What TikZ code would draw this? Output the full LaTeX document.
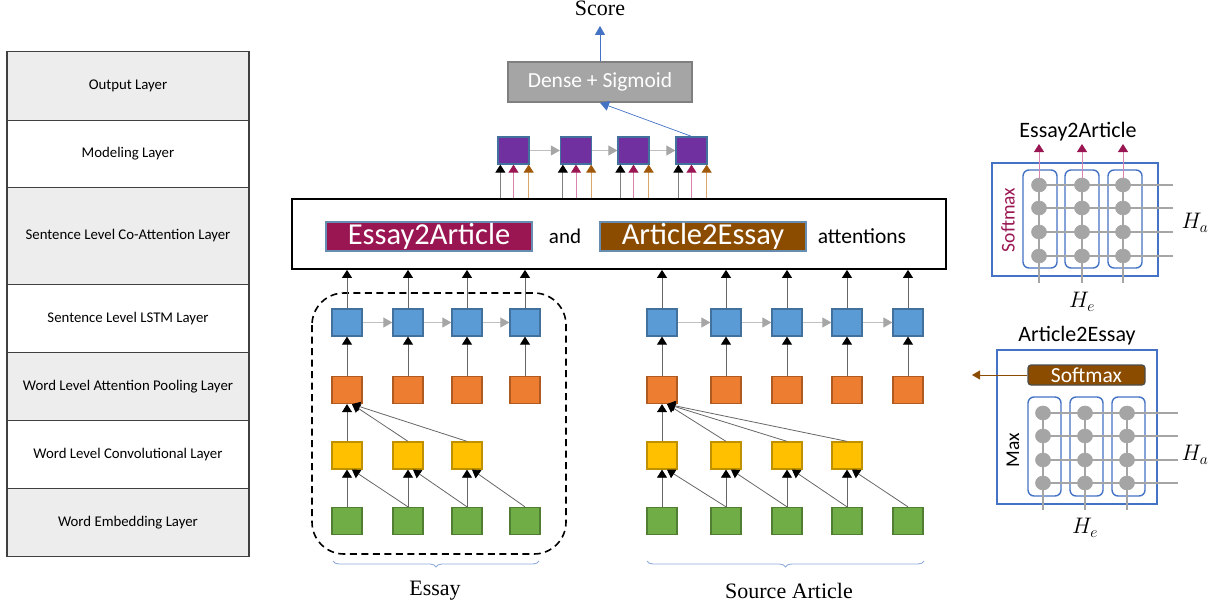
\documentclass[tikz,border=0pt]{standalone}
\usepackage{fontspec}
\usepackage{graphicx}
\setsansfont{Carlito}
\newfontfamily\myserif{Liberation Serif}
\usetikzlibrary{arrows.meta,decorations.pathreplacing,calc,shapes.geometric}
\definecolor{cblue}{HTML}{5B9BD5}
\definecolor{cbluedk}{HTML}{41719C}
\definecolor{corg}{HTML}{ED7D31}
\definecolor{corgdk}{HTML}{AE5A21}
\definecolor{cyel}{HTML}{FFC000}
\definecolor{cyeldk}{HTML}{BF9000}
\definecolor{cgrn}{HTML}{70AD47}
\definecolor{cgrndk}{HTML}{507E32}
\definecolor{cpur}{HTML}{7030A0}
\definecolor{cmag}{HTML}{9A1652}
\definecolor{cbrn}{HTML}{8B4C00}
\definecolor{lgray}{HTML}{EDEDED}
\definecolor{dgray}{HTML}{A5A5A5}
\definecolor{dgraydk}{HTML}{7F7F7F}
\definecolor{lblue}{HTML}{4472C4}
\definecolor{brace}{HTML}{8FAADC}
\definecolor{lpink}{HTML}{D883B0}
\definecolor{ltan}{HTML}{D9A66B}
\definecolor{cbrnhd}{HTML}{A0580A}
\definecolor{gridc}{HTML}{A5A5A5}
\newcommand{\mymath}[1]{\scalebox{1.3}{$#1$}}
\tikzset{
  layer/.style={draw=black!75, line width=1.2pt, minimum width=242pt, inner sep=0pt, outer sep=0pt,
    font=\sffamily\fontsize{14.8}{16}\selectfont},
  cell/.style={line width=1.3pt, minimum width=30pt, minimum height=27pt, inner sep=0pt},
  blu/.style={cell, fill=cblue, draw=cbluedk},
  org/.style={cell, fill=corg, draw=corgdk},
  yel/.style={cell, fill=cyel, draw=cyeldk},
  grn/.style={cell, fill=cgrn, draw=cgrndk},
  pur/.style={cell, fill=cpur, draw=cbluedk, minimum width=31pt},
  uparr/.style={draw=black!60, line width=0.9pt, -{Triangle[length=8pt,width=10pt,color=black]}},
  conv/.style={draw=black!60, line width=0.8pt, -{Triangle[length=8pt,width=10pt,color=black]}},
  rnn/.style={draw=black!25, line width=0.9pt, -{Triangle[length=9pt,width=10pt,color=black!35]}},
  karr/.style={draw=black!50, line width=0.9pt, -{Triangle[length=8pt,width=10pt,color=black]}},
  marr/.style={draw=lpink, line width=0.9pt, -{Triangle[length=8pt,width=10pt,color=cmag]}},
  barr/.style={draw=ltan, line width=0.9pt, -{Triangle[length=8pt,width=10pt,color=cbrnhd]}},
  bluearr/.style={draw=lblue, line width=0.7pt, -{Triangle[length=9pt,width=10pt,color=lblue]}},
  sans/.style={font=\sffamily\fontsize{#1}{#1}\selectfont},
  serif/.style={font=\myserif\fontsize{22}{24}\selectfont},
  mathlbl/.style={font=\fontsize{17}{19}\selectfont},
  lbl/.style={inner sep=0pt, minimum height=29pt, line width=1.2pt, draw=cbluedk!80, text=white,
    font=\sffamily\fontsize{30.5}{31}\selectfont},
  mybrace/.style={draw=brace, line width=0.9pt, decorate, decoration={brace, mirror, amplitude=6pt}},
  outer/.style={draw=lblue, line width=1.4pt},
  inner/.style={draw=lblue, line width=1.4pt, rounded corners=6pt},
  gline/.style={draw=gridc, line width=2.2pt},
  dot/.style={ellipse, fill=gridc, draw=dgraydk!70, line width=0.6pt, minimum width=15pt, minimum height=14pt, inner sep=0pt},
}
\begin{document}
\begin{tikzpicture}[x=1pt,y=-1pt]
\useasboundingbox (0,0) rectangle (1223,610);

% ---------- left layer table ----------
\node[layer, fill=lgray, minimum height=68.3pt] (l1) at (128,86) {Output Layer};
\node[layer, fill=white, minimum height=67.3pt, anchor=north] (l2) at (l1.south) {Modeling Layer};
\node[layer, fill=lgray, minimum height=97pt, anchor=north] (l3) at (l2.south) {Sentence Level Co-Attention Layer};
\node[layer, fill=white, minimum height=68pt, anchor=north] (l4) at (l3.south) {Sentence Level LSTM Layer};
\node[layer, fill=lgray, minimum height=68pt, anchor=north] (l5) at (l4.south) {Word Level Attention Pooling Layer};
\node[layer, fill=white, minimum height=68pt, anchor=north] (l6) at (l5.south) {Word Level Convolutional Layer};
\node[layer, fill=lgray, minimum height=68pt, anchor=north] (l7) at (l6.south) {Word Embedding Layer};

% ---------- attention box ----------
\node[draw, line width=1.8pt, minimum width=654pt, minimum height=70pt, inner sep=0pt] (att) at (619,234) {};
\node[lbl, fill=cmag, minimum width=206pt] (e2a) at (429,236.5) {Essay2Article};
\node[sans=21] (and) at (565,236) {and};
\node[lbl, fill=cbrn, minimum width=206pt] (a2e) at (703,236.5) {Article2Essay};
\node[sans=21.5] (attn) at (862,236) {attentions};

% ---------- output ----------
\node[serif] (score) at (600,8) {Score};
\node[draw=dgraydk, fill=dgray, line width=1.5pt, minimum width=184pt, minimum height=40pt, inner sep=0pt,
      text=white, sans=21.5] (dense) at (600,82) {Dense + Sigmoid};
\draw[bluearr, shorten >=7pt] (dense.north) -- (score.south);

% ---------- modeling layer ----------
\foreach \i/\x in {1/513.5,2/576,3/633.5,4/691.5}
  \node[pur] (p\i) at (\x,150.5) {};
\foreach \i/\j in {1/2,2/3,3/4} \draw[rnn] (p\i) -- (p\j);
\foreach \i in {1,...,4}{
  \draw[karr] ($(p\i.south west |- att.north)+(3,0)$) -- ($(p\i.south west)+(3,0)$);
  \draw[marr] (p\i.south |- att.north) -- (p\i.south);
  \draw[barr] ($(p\i.south east |- att.north)+(-1,0)$) -- ($(p\i.south east)+(-1,0)$);
}
\draw[bluearr] (p4.north) -- (dense.south);

% ---------- essay ----------
\draw[dashed, dash pattern=on 7pt off 4.5pt, line width=1.6pt, rounded corners=32pt]
  (312,293) rectangle (566,554);
\foreach \i/\x in {1/347,2/408,3/467,4/525}{
  \node[blu] (eb\i) at (\x,322.5) {};
  \node[org] (eo\i) at (\x,390) {};
  \node[grn] (eg\i) at (\x,521) {};
}
\foreach \i/\x in {1/347,2/408,3/467} \node[yel] (ey\i) at (\x,455.5) {};
\foreach \i in {1,...,4}{
  \draw[uparr] (eb\i.north) -- (eb\i.north |- att.south);
  \draw[uparr] (eo\i) -- (eb\i);
}
\foreach \i/\j in {1/2,2/3,3/4} \draw[rnn] (eb\i) -- (eb\j);
\foreach \i/\j in {1/2,2/3,3/4}{
  \draw[conv] (eg\i.north) -- (ey\i.south);
  \draw[conv] (eg\j.north) -- ($(ey\i.south)+(5,0)$);
}
\draw[conv] (ey1.north) -- (eo1.south);
\foreach \i in {2,3} \draw[conv] (ey\i.north) -- ($(eo1.south)+(5,0)$);
\coordinate (eba) at (333,561);
\coordinate (ebb) at (539,561);
\draw[mybrace] (eba) -- (ebb);
\node[serif] (essay) at (435,591) {Essay};

% ---------- source article ----------
\foreach \i/\x in {1/662,2/726,3/787,4/847,5/908}{
  \node[blu] (sb\i) at (\x,322.5) {};
  \node[org] (so\i) at (\x,390) {};
  \node[grn] (sg\i) at (\x,521) {};
}
\foreach \i/\x in {1/662,2/726,3/787,4/847} \node[yel] (sy\i) at (\x,455.5) {};
\foreach \i in {1,...,5}{
  \draw[uparr] (sb\i.north) -- (sb\i.north |- att.south);
  \draw[uparr] (so\i) -- (sb\i);
}
\foreach \i/\j in {1/2,2/3,3/4,4/5} \draw[rnn] (sb\i) -- (sb\j);
\foreach \i/\j in {1/2,2/3,3/4,4/5}{
  \draw[conv] (sg\i.north) -- (sy\i.south);
  \draw[conv] (sg\j.north) -- ($(sy\i.south)+(5,0)$);
}
\draw[conv] (sy1.north) -- (so1.south);
\foreach \i in {2,3,4} \draw[conv] (sy\i.north) -- ($(so1.south)+(5,0)$);
\coordinate (sba) at (647,561);
\coordinate (sbb) at (924,561);
\draw[mybrace] (sba) -- (sbb);
\node[serif] (source) at (789,591) {Source Article};

% ---------- Essay2Article panel ----------
\node[sans=22] (t1) at (1078,132) {Essay2Article};
\draw[outer] (992,163) rectangle (1158,276);
\foreach \xa/\xb in {1023/1057,1065/1099,1108/1142}
  \draw[inner] (\xa,170) rectangle (\xb,268);
\foreach \y in {185,208,232,256} \draw[gline] (1039,\y) -- (1173,\y);
\foreach \x in {1039,1082,1123} \draw[gline] (\x,185) -- (\x,283);
\foreach \c/\x in {1/1039,2/1082,3/1123}{
  \foreach \r/\y in {1/185,2/208,3/232,4/256}
    \node[dot] (a\c\r) at (\x,\y) {};
  \coordinate (at\c) at (\x,144);
  \draw[marr] (a\c1) -- (at\c);
}
\node[sans=19.5, text=cmag, rotate=90] (sm1) at (1008,220) {Softmax};
\node[mathlbl] (ha1) at (1195,223) {\mymath{H_a}};
\node[mathlbl] (he1) at (1082,302) {\mymath{H_e}};

% ---------- Article2Essay panel ----------
\node[sans=22] (t2) at (1077,336) {Article2Essay};
\draw[outer] (997,350) rectangle (1157,504);
\node[draw=black!70, fill=cbrn, line width=1.2pt, rounded corners=3pt, minimum width=117pt, minimum height=20pt,
      inner sep=0pt, text=white, sans=21.5] (sm2) at (1086.5,375) {Softmax};
\coordinate (sml) at (972,375);
\draw[draw=cbrn, line width=0.9pt, -{Triangle[length=8pt,width=9pt,color=cbrn]}] (sm2.west) -- (sml);
\foreach \xa/\xb in {1028/1061,1070/1103,1112/1145}
  \draw[inner] (\xa,397) rectangle (\xb,496);
\foreach \y in {413,436,460,483} \draw[gline] (1043,\y) -- (1178,\y);
\foreach \x in {1043,1085,1127} \draw[gline] (\x,413) -- (\x,510);
\foreach \c/\x in {1/1043,2/1085,3/1127}
  \foreach \r/\y in {1/413,2/436,3/460,4/483}
    \node[dot] (b\c\r) at (\x,\y) {};
\node[sans=19.5, rotate=90] (mx) at (1013,450) {Max};
\node[mathlbl] (ha2) at (1195,455) {\mymath{H_a}};
\node[mathlbl] (he2) at (1085,528) {\mymath{H_e}};
\end{tikzpicture}
\end{document}
